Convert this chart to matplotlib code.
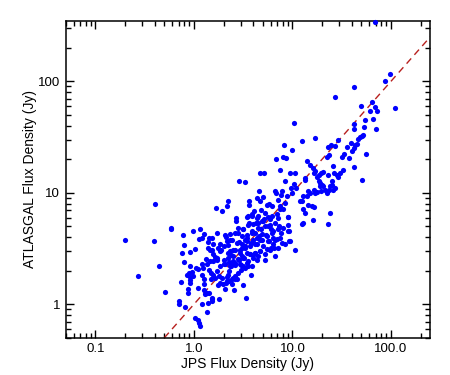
import numpy as np
import matplotlib
matplotlib.use("Agg")
import matplotlib.pyplot as plt
from matplotlib.ticker import FixedLocator, FixedFormatter, LogLocator, NullFormatter

# JPS vs ATLASGAL flux densities (Jy)
jps_flux = [
    0.20, 0.27, 0.39, 0.40, 0.44, 0.51, 0.58, 0.58, 0.70, 0.70,
    0.74, 0.77, 0.785, 0.80, 0.75, 0.81, 0.855, 0.875, 0.88, 0.91,
    0.92, 0.91, 0.90, 0.96, 0.985, 1.03, 1.02, 1.06, 1.09, 1.09,
    1.12, 1.14, 1.13, 1.16, 1.20, 1.20, 1.20, 1.22, 1.26, 1.26,
    1.28, 1.26, 1.32, 1.35, 1.35, 1.37, 1.38, 1.38, 1.42, 1.43,
    1.45, 1.46, 1.49, 1.51, 1.52, 1.55, 1.58, 1.62, 1.67, 1.70,
    1.73, 1.73, 1.74, 1.78, 1.81, 1.82, 1.84, 1.87, 1.91, 1.93,
    1.96, 2.00, 2.02, 2.02, 2.06, 2.06, 2.10, 2.11, 2.15, 2.15,
    2.20, 2.21, 2.23, 2.25, 2.29, 2.29, 2.32, 2.36, 2.38, 2.42,
    2.45, 2.47, 2.51, 2.57, 2.60, 2.63, 2.67, 2.70, 2.76, 2.78,
    2.84, 2.87, 2.90, 2.94, 2.98, 3.00, 3.06, 3.08, 3.12, 3.15,
    3.18, 3.22, 3.27, 3.30, 3.33, 3.37, 3.43, 3.45, 3.48, 3.50,
    3.55, 3.60, 3.62, 3.65, 3.70, 3.77, 3.82, 3.85, 3.88, 3.95,
    4.00, 4.07, 4.14, 4.20, 4.27, 4.33, 4.40, 4.40, 4.50, 4.55,
    4.60, 4.65, 4.70, 4.76, 4.84, 4.90, 5.00, 5.06, 5.20, 5.27,
    5.30, 5.40, 5.48, 5.57, 5.70, 5.75, 5.84, 5.93, 6.00, 6.10,
    6.20, 6.30, 6.40, 6.50, 6.60, 6.70, 6.75, 6.80, 6.90, 7.00,
    7.10, 7.25, 7.40, 7.50, 7.60, 7.70, 7.85, 8.00, 8.10, 8.20,
    8.40, 8.50, 8.60, 8.80, 9.00, 9.20, 9.40, 9.60, 9.80, 9.30,
    10.3, 10.0, 10.5, 10.9,
    10.4, 10.6, 12.4, 17.1, 14.0, 15.1, 16.1, 13.5, 13.3, 16.4,
    17.0, 17.7, 18.4, 19.4, 20.3, 18.4, 19.1, 18.9, 19.9, 20.6,
    21.5, 19.4, 17.7, 17.0, 16.4, 15.1, 14.5, 14.0, 12.9, 12.4,
    11.8, 14.5, 15.8, 16.4, 12.9, 13.5, 16.1, 12.7, 12.4, 22.7,
    23.8, 22.4, 23.3, 24.2, 25.1, 26.0, 27.0, 25.1, 26.5, 28.0,
    29.3, 30.6, 32.5, 22.7, 26.0, 22.4, 23.3, 23.0, 24.5, 27.0,
    29.3, 31.5, 33.7, 35.8, 37.3, 39.0, 40.2, 42.3, 43.3, 41.8,
    41.8, 42.6, 44.9, 46.6, 48.5, 50.5, 51.6, 50.5, 55.4, 53.5,
    54.4, 49.4, 42.3, 27.0, 64.5, 66.0, 69.4, 70.4, 72.9, 61.5,
    87.4, 96.7, 109.0, 69.4,
    # dense centre
    3.43, 3.86, 4.34, 4.51, 4.88, 5.15, 5.60, 6.17, 7.21, 9.00,
    2.82, 3.17, 3.57, 4.01, 4.51, 5.27, 5.93, 6.67, 7.21, 8.10,
    9.10, 2.32, 2.61, 3.05, 3.43, 3.86, 4.34, 4.88, 5.48, 6.17,
    6.67, 7.50, 9.10, 2.15, 2.42, 2.72, 3.05, 3.43, 3.71, 4.17,
    4.69, 5.07, 5.70, 6.41, 7.21, 8.42, 9.47, 2.32, 2.61, 2.94,
    3.30, 3.71, 4.17, 4.69, 5.27, 5.93, 2.23, 2.51, 2.82, 3.17,
    3.57, 4.01, 4.51, 2.07, 2.32, 2.61, 2.94, 3.30, 3.86, 2.23,
    2.51, 2.82, 2.15, 2.42, 2.61, 7.80, 4.70, 7.50,
    # lower left
    1.42, 1.51, 1.55, 0.92, 1.40, 1.51, 1.77, 1.84, 1.70, 1.57,
    1.24, 1.11, 0.98, 1.49, 1.63, 1.84, 0.91, 1.29, 1.51,
]
atlasgal_flux = [
    3.8, 1.8, 3.7, 8.0, 2.2, 1.3, 4.8, 4.7, 1.07, 1.0,
    1.58, 4.17, 3.39, 2.4, 2.9, 0.95, 1.85, 1.36, 1.27, 2.2,
    1.75, 1.65, 1.9, 1.95, 4.5, 3.15, 0.76, 2.1, 1.41, 0.73,
    0.68, 0.64, 3.86, 4.7, 3.9, 2.28, 1.0, 1.83, 4.3, 1.53,
    1.67, 1.35, 2.56, 2.3, 1.27, 0.86, 1.03, 3.63, 2.01, 1.27,
    3.1, 2.44, 1.69, 1.11, 1.07, 1.85, 2.8, 2.65, 7.3, 4.4,
    2.52, 1.99, 1.49, 1.79, 1.12, 2.2, 3.5, 3.1, 1.72, 6.9,
    1.53, 2.3, 2.5, 3.3, 1.36, 4.2, 1.56, 4.0, 1.75, 7.6,
    8.4, 3.4, 2.9, 2.4, 1.97, 1.62, 3.8, 2.74, 2.2, 1.7,
    2.36, 3.1, 2.44, 1.33, 1.79, 2.23, 5.55, 5.9, 1.7, 4.4,
    2.52, 3.6, 12.7, 3.06, 2.27, 2.05, 3.2, 2.7, 4.75, 1.48,
    2.2, 2.6, 3.3, 12.6, 3.8, 1.15, 2.36, 2.9, 4.2, 6.15,
    2.2, 5.35, 8.5, 7.8, 2.8, 3.56, 1.85, 6.4, 4.5, 2.74,
    3.8, 6.8, 2.9, 4.4, 5.35, 3.45, 8.9, 2.52, 6.25, 4.08,
    10.3, 15.0, 3.0, 7.05, 4.7, 3.8, 9.1, 5.55, 15.2, 2.52,
    6.6, 4.2, 3.15, 7.8, 5.0, 3.7, 8.0, 5.8, 4.7, 3.2,
    7.6, 4.5, 3.95, 3.2, 10.3, 2.7, 20.2, 10.0, 6.4, 3.86,
    8.7, 5.0, 16.1, 7.1, 4.4, 9.6, 3.56, 7.1, 21.0, 27.0,
    8.1, 12.7, 20.5, 9.3, 6.1, 4.5, 15.2, 11.1, 24.0, 3.7,
    11.9, 10.0, 15.0, 11.1,
    42.0, 3.1, 29.0, 31.0, 19.1, 17.8, 16.7, 13.6, 13.1, 15.0,
    15.6, 14.0, 14.5, 15.0, 15.3, 12.7, 12.3, 11.4, 11.8, 11.4,
    10.7, 10.3, 10.1, 10.0, 10.7, 10.0, 10.3, 9.3, 9.3, 8.4,
    8.4, 7.8, 7.6, 7.5, 7.1, 6.6, 5.75, 5.35, 5.2, 5.3,
    6.6, 10.0, 10.7, 11.4, 11.8, 10.5, 11.1, 12.7, 15.0, 14.5,
    14.0, 15.0, 16.0, 14.5, 17.5, 21.0, 22.0, 26.0, 27.0, 26.5,
    30.0, 21.0, 22.4, 26.0, 20.5, 28.0, 23.5, 25.0, 27.0, 17.2,
    41.5, 37.3, 27.5, 30.3, 31.6, 32.5, 33.0, 12.9, 22.4, 38.8,
    44.6, 60.0, 88.0, 73.0, 65.6, 45.6, 58.5, 37.5, 54.6, 54.5,
    100.0, 116.0, 57.8, 340.0,
    # dense centre
    6.04, 6.17, 5.96, 5.37, 5.56, 5.87, 6.04, 6.17, 5.96, 6.04,
    4.85, 4.69, 5.19, 5.26, 4.85, 5.01, 5.19, 5.37, 4.69, 4.85,
    5.19, 4.23, 4.37, 4.08, 3.94, 4.37, 3.94, 4.23, 4.08, 4.37,
    3.81, 3.94, 4.53, 3.68, 3.81, 3.56, 3.44, 3.68, 3.32, 3.49,
    3.81, 3.32, 3.68, 3.44, 3.21, 3.44, 3.68, 3.00, 3.10, 2.90,
    3.21, 2.80, 2.90, 3.00, 2.80, 3.10, 2.61, 2.71, 2.53, 2.61,
    2.44, 2.61, 2.71, 2.28, 2.20, 2.36, 2.28, 2.13, 2.20, 1.85,
    1.73, 1.92, 1.62, 1.51, 1.67, 10.3, 8.4, 7.6,
    # lower left
    3.94, 3.94, 3.49, 2.96, 3.21, 3.04, 3.21, 3.00, 2.61, 2.44,
    2.13, 2.06, 1.79, 1.92, 1.73, 1.56, 1.56, 1.23, 1.15,
]

x_ticks = [0.1, 1.0, 10.0, 100.0]
x_labels = ["0.1", "1.0", "10.0", "100.0"]
y_ticks = [1, 10, 100]
y_labels = ["1", "10", "100"]

plt.rcParams['font.family'] = ['Liberation Sans', 'DejaVu Sans']

fig = plt.figure(figsize=(4.5, 3.75), dpi=100)
ax = fig.add_axes([0.146, 0.099, 0.81, 0.846])

ax.scatter(jps_flux, atlasgal_flux, s=14, color='#0000ff', linewidths=0, clip_on=False, zorder=3)
ax.axline((1, 1), (10, 10), color='#b8201e', lw=1.0, dashes=(5, 3.5), zorder=2)

ax.set_xscale('log')
ax.set_yscale('log')
ax.set_xlim(0.05, 250)
ax.set_ylim(0.5, 350)

ax.xaxis.set_major_locator(FixedLocator(x_ticks))
ax.xaxis.set_major_formatter(FixedFormatter(x_labels))
ax.yaxis.set_major_locator(FixedLocator(y_ticks))
ax.yaxis.set_major_formatter(FixedFormatter(y_labels))
ax.xaxis.set_minor_locator(LogLocator(base=10, subs=np.arange(2, 10)))
ax.yaxis.set_minor_locator(LogLocator(base=10, subs=np.arange(2, 10)))
ax.xaxis.set_minor_formatter(NullFormatter())
ax.yaxis.set_minor_formatter(NullFormatter())

ax.tick_params(which='both', direction='in', top=True, right=True, width=1.0, labelsize=9.5, pad=4)
ax.tick_params(which='major', length=6)
ax.tick_params(which='minor', length=3.5)
for sp in ax.spines.values():
    sp.set_linewidth(1.1)

ax.set_xlabel('JPS Flux Density (Jy)', fontsize=10, labelpad=1)
ax.set_ylabel('ATLASGAL Flux Density (Jy)', fontsize=10, labelpad=1)

fig.savefig('out.png', dpi=100)
